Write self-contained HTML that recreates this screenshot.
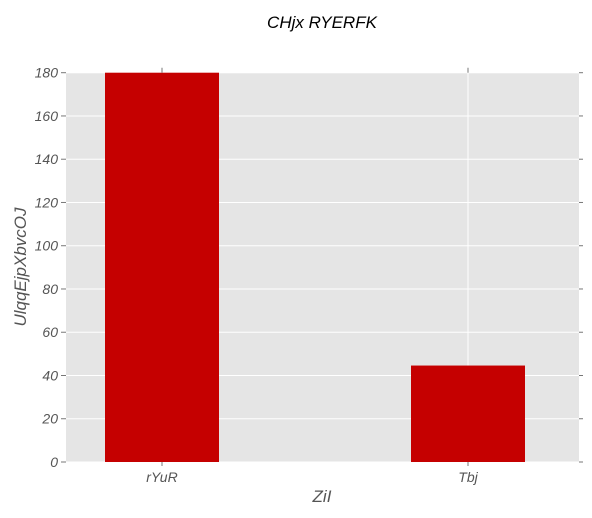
<!DOCTYPE html>
<html><head><meta charset="utf-8"><style>
body{margin:0;background:#fff;}
svg{display:block;font-family:"Liberation Sans",sans-serif;font-style:italic;}
</style></head><body>
<svg id="chart" width="592" height="518">
<rect x="0" y="0" width="592" height="518" fill="#fff"/>
<text x="322" y="28" font-size="17" text-anchor="middle" fill="#000">CHjx RYERFK</text>
<rect x="66" y="72.7" width="513" height="389.3" fill="#e5e5e5"/>
<g id="grid"></g><g id="bars"></g><g id="axes"></g>
<text x="322" y="502" font-size="17" text-anchor="middle" fill="#555">ZiI</text>
<text transform="translate(26,267) rotate(-90)" font-size="17" text-anchor="middle" fill="#555">UlqqEjpXbvcOJ</text>
</svg>
<script>
const categories=["rYuR","Tbj"];
const values=[180,44.6];
const yTicks=[0,20,40,60,80,100,120,140,160,180];
const NS="http://www.w3.org/2000/svg";
const L=66,R=579,T=72.7,B=462;
function y(v){return B-(v/180)*(B-T);}
function x(i){return 162+i*306;}
const bw=114;
function mk(tag,attrs,parent){const e=document.createElementNS(NS,tag);for(const k in attrs)e.setAttribute(k,attrs[k]);document.getElementById(parent).appendChild(e);return e;}
yTicks.forEach(t=>{
  const g=mk("line",{x1:L,x2:R,y1:y(t),y2:y(t),stroke:"#fff","stroke-width":1},"grid");
  
  
  mk("line",{x1:L-5,x2:L,y1:y(t),y2:y(t),stroke:"#777"},"axes");
  mk("line",{x1:R,x2:R+4,y1:y(t),y2:y(t),stroke:"#777"},"axes");
  const lb=mk("text",{x:L-8,y:y(t)+5,"font-size":14,"text-anchor":"end",fill:"#555"},"axes");
  lb.textContent=t;
  
  
});
categories.forEach((c,i)=>{
  const g=mk("line",{x1:x(i),x2:x(i),y1:T,y2:B,stroke:"#fff"},"grid");
  
  
  const r=mk("rect",{x:x(i)-bw/2,y:y(values[i]),width:bw,height:B-y(values[i]),fill:"#c50000"},"bars");
  
  
  mk("line",{x1:x(i),x2:x(i),y1:B,y2:B+4,stroke:"#777"},"axes");
  mk("line",{x1:x(i),x2:x(i),y1:T-5,y2:T,stroke:"#777"},"axes");
  const lb=mk("text",{x:x(i),y:B+20,"font-size":14,"text-anchor":"middle",fill:"#555"},"axes");
  lb.textContent=c;
  
  
});
</script>
</body></html>
